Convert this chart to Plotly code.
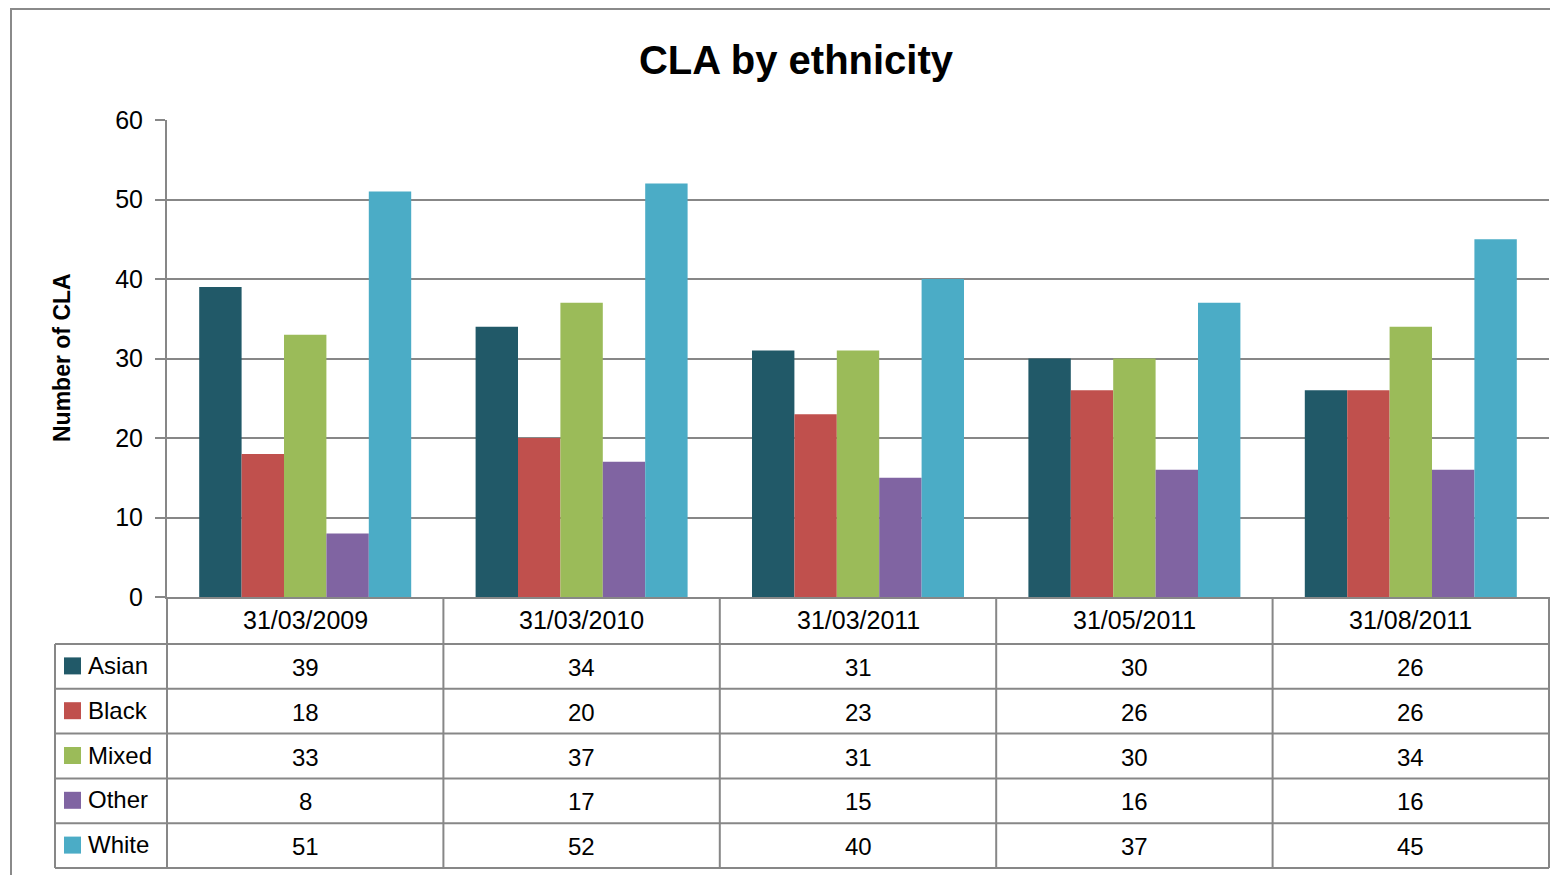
import plotly.graph_objects as go

categories = ["31/03/2009", "31/03/2010", "31/03/2011", "31/05/2011", "31/08/2011"]
series_names = ["Asian", "Black", "Mixed", "Other", "White"]
asian = [39, 34, 31, 30, 26]
black = [18, 20, 23, 26, 26]
mixed = [33, 37, 31, 30, 34]
other = [8, 17, 15, 16, 16]
white = [51, 52, 40, 37, 45]
series_values = [asian, black, mixed, other, white]
colors = ["#215968", "#C0504D", "#9BBB59", "#8064A2", "#4BACC6"]

# the page body has an 8px margin, so the figure is laid out in page pixels minus 8
OFF = 8
W, H = 1558 - OFF, 875 - OFF
PL, PR, PT, PB = 167, 1549, 120, 597   # plot area in page pixels
L, R, T, B = PL - OFF, W - (PR - OFF), PT - OFF, H - (PB - OFF)
pw = W - L - R
ph = H - T - B


def px(x):
    return (x - OFF - L) / pw


def py(y):
    return (H - B - (y - OFF)) / ph


FONT = "Liberation Sans, Arial, sans-serif"
GRID = "#878787"

fig = go.Figure()
for name, vals, col in zip(series_names, series_values, colors):
    fig.add_trace(go.Bar(x=categories, y=vals, name=name, marker=dict(color=col, line=dict(width=0))))

shapes = []
annotations = []

# outer chart border
shapes.append(dict(type="rect", xref="paper", yref="paper", x0=px(11), x1=px(1590), y0=py(900), y1=py(9),
                   line=dict(color="#8a8a8a", width=2), fillcolor="rgba(0,0,0,0)", layer="below"))

# table geometry (page pixels)
header_top, header_bot, table_bot = 597, 644, 868
row_h = (table_bot - header_bot) / 5
row_lines = [header_bot + i * row_h for i in range(6)]
col_edges = [PL + i * (PR - PL) / len(categories) for i in range(len(categories) + 1)]

for yl in row_lines:
    shapes.append(dict(type="line", xref="paper", yref="paper", x0=px(55), x1=px(PR), y0=py(yl), y1=py(yl),
                       line=dict(color=GRID, width=2)))
for xe in col_edges:
    shapes.append(dict(type="line", xref="paper", yref="paper", x0=px(xe), x1=px(xe), y0=py(header_top),
                       y1=py(table_bot), line=dict(color=GRID, width=2)))
shapes.append(dict(type="line", xref="paper", yref="paper", x0=px(55), x1=px(55), y0=py(header_bot),
                   y1=py(table_bot), line=dict(color=GRID, width=2)))

# header labels
for c in categories:
    annotations.append(dict(x=c, xref="x", y=py((header_top + header_bot) / 2 - 1), yref="paper", text=c,
                            showarrow=False, font=dict(family=FONT, size=25, color="#000"), yanchor="middle"))

# rows
for i, (name, vals, col) in enumerate(zip(series_names, series_values, colors)):
    yc = (row_lines[i] + row_lines[i + 1]) / 2
    shapes.append(dict(type="rect", xref="paper", yref="paper", x0=px(64), x1=px(81), y0=py(yc - 9),
                       y1=py(yc + 8), line=dict(width=0), fillcolor=col))
    annotations.append(dict(x=px(86), xref="paper", y=py(yc - 1), yref="paper", text=name, showarrow=False,
                            xanchor="left", yanchor="middle", font=dict(family=FONT, size=24, color="#000")))
    for c, v in zip(categories, vals):
        annotations.append(dict(x=c, xref="x", y=py(yc + 1), yref="paper", text=str(v), showarrow=False,
                                yanchor="middle", font=dict(family=FONT, size=24, color="#000")))

# y-axis title
annotations.append(dict(x=px(62), xref="paper", y=py(358), yref="paper", text="<b>Number of CLA</b>",
                        showarrow=False, textangle=-90, xanchor="center", yanchor="middle",
                        font=dict(family=FONT, size=23, color="#000")))

fig.update_layout(
    width=W, height=H,
    margin=dict(l=L, r=R, t=T, b=B),
    paper_bgcolor="white", plot_bgcolor="white",
    barmode="group", bargap=0.233, bargroupgap=0,
    showlegend=False,
    title=dict(text="<b>CLA by ethnicity</b>", x=(796 - OFF) / W, xanchor="center", y=1 - (60 - OFF) / H,
               yanchor="middle", font=dict(family=FONT, size=40, color="#000")),
    shapes=shapes, annotations=annotations,
    font=dict(family=FONT, color="#000"),
)
fig.update_xaxes(showticklabels=False, showgrid=False, showline=True, linecolor=GRID, linewidth=2, ticks="",
                 zeroline=False)
fig.update_yaxes(range=[0, 60], dtick=10, showgrid=True, gridcolor=GRID, gridwidth=1.5, showline=True,
                 linecolor=GRID, linewidth=2, ticks="outside", ticklen=10, tickcolor=GRID, tickwidth=2,
                 ticklabelstandoff=7,
                 tickfont=dict(family=FONT, size=25, color="#000"), zeroline=False)

fig.write_html("out.html")
